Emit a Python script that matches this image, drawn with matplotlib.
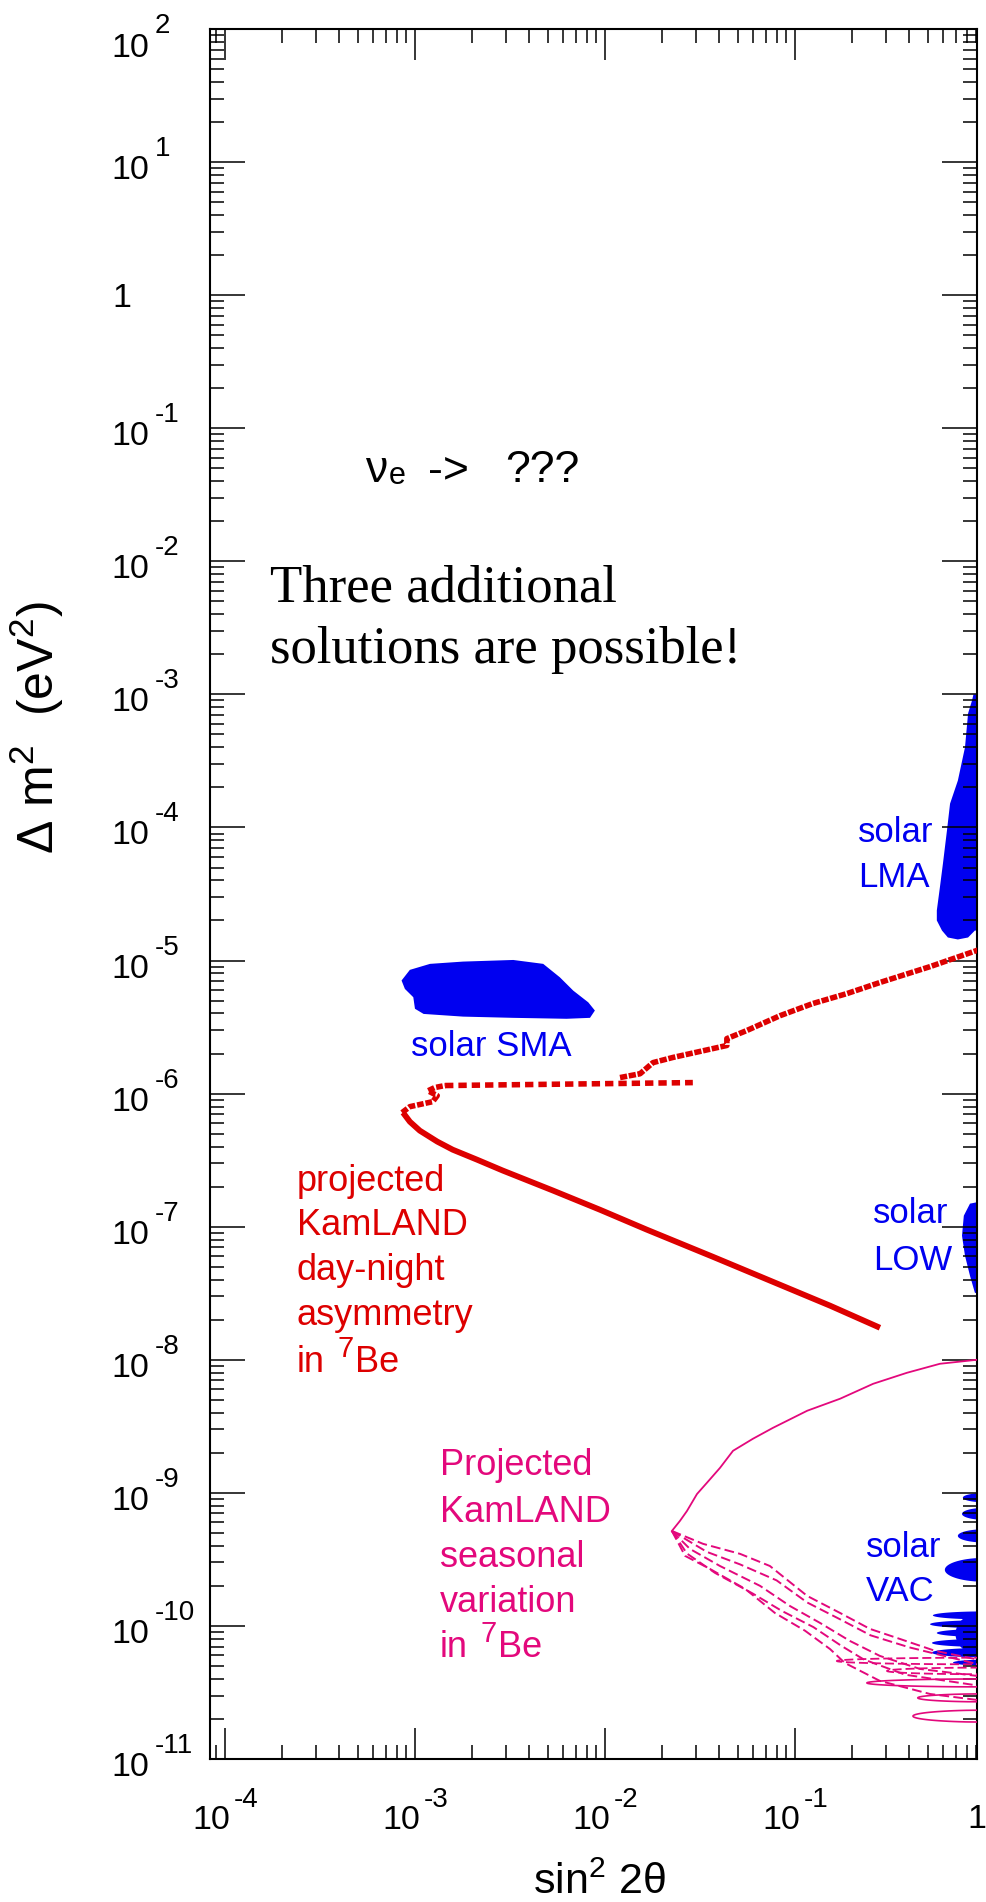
import numpy as np
import matplotlib
matplotlib.use("Agg")
import matplotlib.pyplot as plt
from matplotlib.ticker import LogLocator, NullFormatter
from matplotlib.transforms import blended_transform_factory, offset_copy

plt.rcParams['font.family'] = ['Liberation Sans', 'DejaVu Sans']
plt.rcParams['mathtext.fontset'] = 'custom'
plt.rcParams['mathtext.rm'] = 'Liberation Sans'
plt.rcParams['mathtext.it'] = 'Liberation Sans'
plt.rcParams['mathtext.default'] = 'regular'

# ------------------------------------------------------------------ data
x_tick_exp = [-4, -3, -2, -1, 0]
y_tick_exp = [2, 1, 0, -1, -2, -3, -4, -5, -6, -7, -8, -9, -10, -11]
XLIM = (8.34e-5, 0.908)
YLIM = (1e-11, 1e2)

# solar SMA region (outline)
sma_sin2 = [8.5e-4, 9.4e-4, 1.2e-3, 1.79e-3, 3.29e-3, 4.73e-3, 5.79e-3, 6.81e-3, 8.17e-3,
            8.85e-3, 8.34e-3, 6.28e-3, 3.29e-3, 1.79e-3, 1.11e-3, 1.0e-3, 9.8e-4, 8.85e-4]
sma_dm2 = [7.08e-6, 8.51e-6, 9.44e-6, 9.82e-6, 1.01e-5, 9.44e-6, 7.48e-6, 5.94e-6, 4.85e-6,
           4.21e-6, 3.71e-6, 3.65e-6, 3.71e-6, 3.79e-6, 3.97e-6, 4.34e-6, 5.30e-6, 6.12e-6]

# solar LMA region
lma_sin2 = [1.0, 0.87, 0.855, 0.815, 0.785, 0.720, 0.655, 0.631, 0.601, 0.579, 0.558, 0.558,
            0.594, 0.638, 0.720, 0.815, 0.885, 1.0]
lma_dm2 = [1.0e-3, 1.0e-3, 9.0e-4, 7.2e-4, 4.0e-4, 2.25e-4, 1.51e-4, 9.5e-5, 5.36e-5, 3.54e-5,
           2.38e-5, 2.0e-5, 1.68e-5, 1.49e-5, 1.44e-5, 1.49e-5, 1.68e-5, 1.68e-5]

# solar LOW region
low_sin2 = [1.0, 0.834, 0.774, 0.757, 0.785, 0.834, 0.885, 1.0]
low_dm2 = [1.57e-7, 1.49e-7, 1.21e-7, 8.56e-8, 6.05e-8, 4.28e-8, 3.19e-8, 3.03e-8]

# solar VAC islands: centre dm2, half height (decades), left tip sin2
vac_dm2 = [9.2e-10, 6.95e-10, 4.75e-10, 2.64e-10, 1.2e-10, 1.03e-10, 8.85e-11, 7.45e-11,
           6.3e-11, 5.3e-11, 8.7e-11]
vac_halfdex = [0.035, 0.045, 0.05, 0.09, 0.03, 0.03, 0.03, 0.03, 0.035, 0.022, 0.17]
vac_tip = [0.765, 0.757, 0.720, 0.615, 0.532, 0.514, 0.558, 0.526, 0.526, 0.679, 0.70]

# KamLAND day-night asymmetry contour (red)
dn_solid_sin2 = [8.65e-4, 9.4e-4, 1.06e-3, 1.31e-3, 1.58e-3, 2.12e-3, 2.90e-3, 5.32e-3,
                 9.42e-3, 1.66e-2, 3.70e-2, 8.34e-2, 0.153, 0.280]
dn_solid_dm2 = [7.2e-7, 6.15e-7, 5.27e-7, 4.36e-7, 3.79e-7, 3.19e-7, 2.64e-7, 1.87e-7,
                1.34e-7, 9.5e-8, 5.94e-8, 3.66e-8, 2.55e-8, 1.74e-8]
dn_dash_sin2 = [8.55e-4, 9.4e-4, 1.24e-3, 1.31e-3, 1.17e-3, 1.27e-3, 1.44e-3, 2.90e-2]
dn_dash_dm2 = [7.2e-7, 7.98e-7, 8.7e-7, 9.66e-7, 1.05e-6, 1.11e-6, 1.15e-6, 1.21e-6]
dn_upper_sin2 = [1.20e-2, 1.53e-2, 1.79e-2, 2.28e-2, 4.38e-2, 4.38e-2, 5.58e-2, 8.34e-2,
                 0.124, 0.188, 0.280, 0.514, 1.0]
dn_upper_dm2 = [1.32e-6, 1.41e-6, 1.71e-6, 1.87e-6, 2.30e-6, 2.59e-6, 2.98e-6, 3.85e-6,
                4.75e-6, 5.65e-6, 6.84e-6, 9.0e-6, 1.25e-5]

# KamLAND seasonal variation contour (pink)
seas_upper_sin2 = [1.0, 0.908, 0.579, 0.388, 0.258, 0.173, 0.116, 0.0766, 0.0601, 0.0472,
                   0.0403, 0.0344, 0.0305, 0.0270, 0.0248, 0.0225]
seas_upper_dm2 = [1.05e-8, 1.0e-8, 9.33e-9, 7.98e-9, 6.6e-9, 5.1e-9, 4.14e-9, 3.08e-9,
                  2.55e-9, 2.07e-9, 1.54e-9, 1.19e-9, 9.8e-10, 7.3e-10, 6.15e-10, 5.17e-10]
seas_a_sin2 = [0.0225, 0.0328, 0.0514, 0.0738, 0.116, 0.173, 0.248, 0.357, 0.546, 1.0]
seas_a_dm2 = [5.17e-10, 4.14e-10, 3.48e-10, 2.82e-10, 1.68e-10, 1.25e-10, 9.5e-11, 7.98e-11,
              6.5e-11, 5.45e-11]
seas_d_sin2 = [0.0225, 0.0344, 0.0514, 0.080, 0.116, 0.173, 0.25, 0.40, 1.0]
seas_d_dm2 = [5.17e-10, 3.6e-10, 2.9e-10, 2.2e-10, 1.5e-10, 1.12e-10, 8.5e-11, 6.9e-11, 5.0e-11]
seas_b_sin2 = [0.0225, 0.0280, 0.0403, 0.0655, 0.0942, 0.136, 0.195, 0.280, 0.455, 1.0]
seas_b_dm2 = [5.17e-10, 3.79e-10, 2.82e-10, 2.0e-10, 1.41e-10, 1.05e-10, 7.7e-11, 5.95e-11,
              4.75e-11, 4.14e-11]
seas_e_sin2 = [0.0225, 0.0270, 0.0380, 0.060, 0.085, 0.125, 0.175, 0.23, 0.38, 1.0]
seas_e_dm2 = [5.17e-10, 3.5e-10, 2.5e-10, 1.75e-10, 1.3e-10, 9.8e-11, 7.1e-11, 5.6e-11,
              4.3e-11, 3.5e-11]
seas_c_sin2 = [0.0225, 0.0264, 0.0357, 0.0546, 0.0785, 0.113, 0.153, 0.183, 0.280, 0.514, 1.0]
seas_c_dm2 = [5.17e-10, 3.36e-10, 2.68e-10, 1.90e-10, 1.25e-10, 9.2e-11, 6.7e-11, 5.27e-11,
              3.86e-11, 3.08e-11, 2.73e-11]
seas_lobe_dm2 = [3.73e-11, 2.88e-11, 2.10e-11]
seas_lobe_halfdex = [0.03, 0.03, 0.045]
seas_lobe_tip = [0.239, 0.443, 0.418]
seas_dlobe_dm2 = [5.45e-11, 4.59e-11]
seas_dlobe_halfdex = [0.025, 0.025]
seas_dlobe_tip = [0.166, 0.305]

# ------------------------------------------------------------------ style
BLUE = '#0000F0'
RED = '#DD0000'
PINK = '#E3087C'
W, H = 987, 1902


def lobe(dm2, halfdex, tip, right=1.0, n=60):
    s = np.linspace(-1.0, 1.0, n)
    ly = np.log10(dm2) + halfdex * s
    lr, lt = np.log10(right), np.log10(tip)
    lx = lr - (lr - lt) * np.sqrt(1.0 - s ** 2)
    return 10 ** lx, 10 ** ly


fig = plt.figure(figsize=(W / 100, H / 100), dpi=100)
ax = fig.add_axes([210 / W, 1 - 1759 / H, 767 / W, 1730 / H])
ax.set_xscale('log')
ax.set_yscale('log')
ax.set_xlim(*XLIM)
ax.set_ylim(*YLIM)
for axis in (ax.xaxis, ax.yaxis):
    axis.set_major_locator(LogLocator(base=10, numticks=40))
    axis.set_minor_locator(LogLocator(base=10, subs=np.arange(2, 10), numticks=40))
    axis.set_major_formatter(NullFormatter())
    axis.set_minor_formatter(NullFormatter())
ax.tick_params(which='both', direction='in', top=True, right=True, bottom=True, left=True,
               labelbottom=False, labelleft=False, width=1.1, color='black')
ax.tick_params(axis='x', which='major', length=22)
ax.tick_params(axis='y', which='major', length=25)
ax.tick_params(which='minor', length=10)
for sp in ax.spines.values():
    sp.set_linewidth(1.5)

# blue solar regions
ax.fill(sma_sin2, sma_dm2, color=BLUE, lw=0, zorder=1)
ax.fill(lma_sin2, lma_dm2, color=BLUE, lw=0, zorder=1)
ax.fill(low_sin2, low_dm2, color=BLUE, lw=0, zorder=1)
for c, h, t in zip(vac_dm2, vac_halfdex, vac_tip):
    xs, ys = lobe(c, h, t)
    ax.fill(xs, ys, color=BLUE, lw=0, zorder=1)

# red day-night contour
ax.plot(dn_solid_sin2, dn_solid_dm2, color=RED, lw=4.2, solid_capstyle='butt',
        solid_joinstyle='round', zorder=3)
ax.plot(dn_dash_sin2[:7], dn_dash_dm2[:7], color=RED, lw=4.0, ls=(0, (1.2, 0.35)),
        dash_capstyle='butt', zorder=3)
ax.plot(dn_dash_sin2[6:], dn_dash_dm2[6:], color=RED, lw=4.0, ls=(0, (1.5, 0.9)),
        dash_capstyle='butt', zorder=3)
ax.plot(dn_upper_sin2, dn_upper_dm2, color=RED, lw=4.0, ls=(0, (1.3, 0.3)),
        dash_capstyle='butt', zorder=3)

# pink seasonal contour
ax.plot(seas_upper_sin2, seas_upper_dm2, color=PINK, lw=1.3, zorder=3)
for xs_, ys_ in ((seas_a_sin2, seas_a_dm2), (seas_d_sin2, seas_d_dm2),
                 (seas_b_sin2, seas_b_dm2), (seas_e_sin2, seas_e_dm2),
                 (seas_c_sin2, seas_c_dm2)):
    ax.plot(xs_, ys_, color=PINK, lw=1.4, ls=(0, (5, 2.2)), zorder=3)
for c, h, t in zip(seas_lobe_dm2, seas_lobe_halfdex, seas_lobe_tip):
    xs, ys = lobe(c, h, t)
    ax.plot(xs, ys, color=PINK, lw=1.2, zorder=3)
for c, h, t in zip(seas_dlobe_dm2, seas_dlobe_halfdex, seas_dlobe_tip):
    xs, ys = lobe(c, h, t)
    ax.plot(xs, ys, color=PINK, lw=1.3, ls=(0, (5, 2.2)), zorder=3)

# ------------------------------------------------------------------ tick labels
ty = blended_transform_factory(fig.transFigure, ax.transData)
for e in y_tick_exp:
    if e == 0:
        fig.text(112 / W, 1.0, "1", fontsize=24.5, ha='left', va='baseline',
                 transform=offset_copy(ty, fig=fig, y=-12, units='dots'))
        continue
    off10 = -28 if e == y_tick_exp[0] else -17
    offex = -4 if e == y_tick_exp[0] else 6
    fig.text(111 / W, 10.0 ** e, "10", fontsize=24.5, ha='left', va='baseline',
             transform=offset_copy(ty, fig=fig, y=off10, units='dots'))
    fig.text(155 / W, 10.0 ** e, "%d" % e, fontsize=20, ha='left', va='baseline',
             transform=offset_copy(ty, fig=fig, y=offex, units='dots'))

tx = blended_transform_factory(ax.transData, fig.transFigure)
for e in x_tick_exp:
    if e == 0:
        fig.text(986 / W, 1 - 1828 / H, "1", fontsize=24.5, ha='right', va='baseline')
        continue
    fig.text(10.0 ** e, 1 - 1829 / H, "10", fontsize=24.5, ha='right', va='baseline',
             transform=offset_copy(tx, fig=fig, x=5, units='dots'))
    fig.text(10.0 ** e, 1 - 1807 / H, "%d" % e, fontsize=20, ha='left', va='baseline',
             transform=offset_copy(tx, fig=fig, x=9, units='dots'))

# axis titles
fig.text(599 / W, 1 - 1894 / H, "sin$^{2}$ 2θ", fontsize=31, ha='center', va='baseline')
fig.text(37 / W, 1 - 728 / H, "Δ m$^{2}$  (eV$^{2}$)", fontsize=36, rotation=90,
         ha='center', va='center')


def ftext(xp, yp, s, **kw):
    fig.text(xp / W, 1 - yp / H, s, ha='left', va='baseline', **kw)


# annotations
ftext(365, 482, "ν", fontsize=32)
ftext(389, 484, "e", fontsize=22)
ftext(428, 482, "->", fontsize=32)
ftext(505, 482, "???", fontsize=32)
ftext(270, 602, "Three additional", fontsize=38, family='Liberation Serif')
ftext(270, 663, "solutions are possible!", fontsize=38, family='Liberation Serif')

ftext(858, 842, "solar", fontsize=25, color=BLUE)
ftext(858, 887, "LMA", fontsize=25, color=BLUE)
ftext(411, 1056, "solar SMA", fontsize=25, color=BLUE)
ftext(873, 1223, "solar", fontsize=25, color=BLUE)
ftext(873, 1270, "LOW", fontsize=25, color=BLUE)
ftext(866, 1557, "solar", fontsize=25, color=BLUE)
ftext(866, 1601, "VAC", fontsize=25, color=BLUE)

for i, line in enumerate(["projected", "KamLAND", "day-night", "asymmetry"]):
    ftext(297, [1191, 1235, 1280, 1325][i], line, fontsize=26, color=RED)
ftext(297, 1372, "in", fontsize=26, color=RED)
ftext(338, 1357, "7", fontsize=21, color=RED)
ftext(355, 1372, "Be", fontsize=26, color=RED)

for i, line in enumerate(["Projected", "KamLAND", "seasonal", "variation"]):
    ftext(440, [1475, 1522, 1567, 1612][i], line, fontsize=26, color=PINK)
ftext(440, 1657, "in", fontsize=26, color=PINK)
ftext(481, 1642, "7", fontsize=21, color=PINK)
ftext(498, 1657, "Be", fontsize=26, color=PINK)

fig.savefig("out.png", dpi=100)
